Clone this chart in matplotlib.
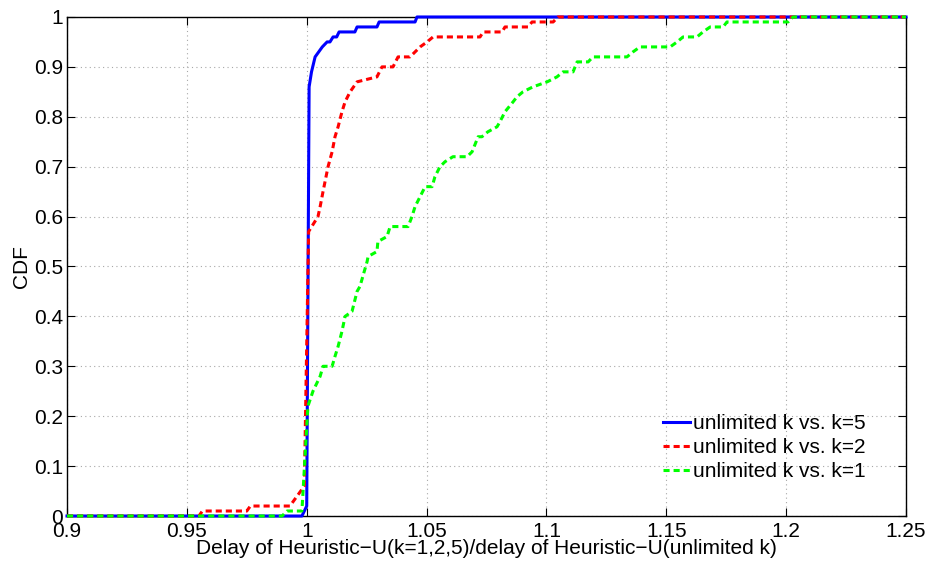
"""CDF of delay ratio, Heuristic-U with limited k vs unlimited k."""

import matplotlib

matplotlib.use("Agg")
import matplotlib.pyplot as plt
import numpy as np

plt.rcParams["font.family"] = ["Liberation Sans", "DejaVu Sans"]

# ratio values (x) and cumulative fraction (y)
k5_x = [0.9, 0.998, 1.0, 1.001, 1.002, 1.0035, 1.005, 1.0065, 1.0085,
        1.0097, 1.011, 1.0125, 1.0135, 1.0201, 1.021, 1.0293, 1.0302,
        1.0452, 1.046, 1.25]
k5_y = [0.0, 0.0, 0.02, 0.86, 0.89, 0.92, 0.93, 0.94, 0.95,
        0.95, 0.96, 0.96, 0.97, 0.97, 0.98, 0.98, 0.99,
        0.99, 1.0, 1.0]

k2_x = [0.9, 0.955, 0.9565, 0.975, 0.9765, 0.993, 0.996, 0.999, 1.0008,
        1.0047, 1.0056, 1.0068, 1.0089, 1.0106, 1.0118, 1.0131, 1.0147,
        1.016, 1.0181, 1.021, 1.0293, 1.0314, 1.036, 1.0381, 1.0431,
        1.0473, 1.0502, 1.0527, 1.0723, 1.0736, 1.0815, 1.0827, 1.0923,
        1.094, 1.1028, 1.1048, 1.25]
k2_y = [0.0, 0.0, 0.01, 0.01, 0.02, 0.02, 0.04, 0.06, 0.57,
        0.60, 0.62, 0.65, 0.70, 0.73, 0.76, 0.78, 0.81,
        0.83, 0.85, 0.87, 0.88, 0.90, 0.90, 0.92, 0.92,
        0.94, 0.95, 0.96, 0.96, 0.97, 0.97, 0.98, 0.98,
        0.99, 0.99, 1.0, 1.0]

k1_x = [0.9, 0.9897, 0.9918, 0.998, 1.0005, 1.0026, 1.0056, 1.0068, 1.0106,
        1.0118, 1.0131, 1.0147, 1.016, 1.0189, 1.021, 1.0222, 1.0252,
        1.0256, 1.0293, 1.0297, 1.0335, 1.0348, 1.0377, 1.0423, 1.0439,
        1.0452, 1.0473, 1.0494, 1.0523, 1.0535, 1.0556, 1.0577, 1.061,
        1.0669, 1.069, 1.0715, 1.0731, 1.0756, 1.0794, 1.0806, 1.0827,
        1.0861, 1.0877, 1.0902, 1.0944, 1.1003, 1.1044, 1.1069, 1.1111,
        1.1128, 1.1174, 1.1194, 1.1295, 1.1336, 1.1361, 1.139, 1.1516,
        1.1545, 1.157, 1.1628, 1.1653, 1.1683, 1.1737, 1.1753, 1.2008,
        1.2029, 1.25]
k1_y = [0.0, 0.0, 0.01, 0.01, 0.22, 0.25, 0.28, 0.30, 0.30,
        0.32, 0.34, 0.37, 0.40, 0.41, 0.45, 0.46, 0.51,
        0.52, 0.53, 0.55, 0.56, 0.58, 0.58, 0.58, 0.60,
        0.62, 0.64, 0.66, 0.66, 0.68, 0.70, 0.71, 0.72,
        0.72, 0.73, 0.76, 0.76, 0.77, 0.78, 0.79, 0.81,
        0.83, 0.84, 0.85, 0.86, 0.87, 0.88, 0.89, 0.89,
        0.91, 0.91, 0.92, 0.92, 0.92, 0.93, 0.94, 0.94,
        0.95, 0.96, 0.96, 0.97, 0.98, 0.98, 0.99, 0.99,
        1.0, 1.0]

labels = ["unlimited k vs. k=5", "unlimited k vs. k=2", "unlimited k vs. k=1"]
x_ticks = [0.9, 0.95, 1.0, 1.05, 1.1, 1.15, 1.2, 1.25]
x_ticklabels = ["0.9", "0.95", "1", "1.05", "1.1", "1.15", "1.2", "1.25"]
y_ticks = np.round(np.arange(0, 1.01, 0.1), 1)
y_ticklabels = ["0", "0.1", "0.2", "0.3", "0.4", "0.5", "0.6", "0.7", "0.8", "0.9", "1"]

FS = 15

fig = plt.figure(figsize=(9.28, 5.64), dpi=100)
ax = fig.add_axes([0.0722, 0.0851, 0.9041, 0.8848])

ax.plot(k5_x, k5_y, color="#0000ff", lw=2.2, ls="-", label=labels[0], clip_on=False, zorder=3)
ax.plot(k2_x, k2_y, color="#ff0000", lw=2.2, dashes=(2.0, 1.3), label=labels[1], clip_on=False, zorder=4)
ax.plot(k1_x, k1_y, color="#00ff00", lw=2.2, dashes=(2.0, 1.3), label=labels[2], clip_on=False, zorder=5)

ax.set_xlim(0.9, 1.25)
ax.set_ylim(0, 1)
ax.set_xticks(x_ticks)
ax.set_xticklabels(x_ticklabels)
ax.set_yticks(y_ticks)
ax.set_yticklabels(y_ticklabels)

ax.grid(True, color="#a8a8a8", linestyle=(0, (1, 3)), linewidth=0.8)
ax.set_axisbelow(True)
ax.tick_params(direction="in", length=5.8, width=0.8, labelsize=FS,
               top=True, right=True, pad=4)
ax.tick_params(axis="y", pad=3)
for side in ax.spines.values():
    side.set_linewidth(1.0)
    side.set_color("black")

ax.set_xlabel("Delay of Heuristic\u2212U(k=1,2,5)/delay of Heuristic\u2212U(unlimited k)",
              fontsize=FS, labelpad=-1)
ax.set_ylabel("CDF", fontsize=FS, labelpad=2)

ax.legend(loc="lower right", bbox_to_anchor=(0.962, 0.053), frameon=False,
          fontsize=FS, handlelength=1.3, handletextpad=0.15, labelspacing=0.25,
          borderaxespad=0)

fig.savefig("out.png", dpi=100)
